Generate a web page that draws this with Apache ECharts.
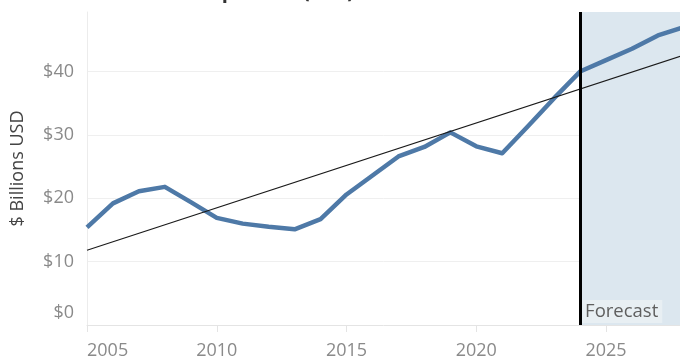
<!DOCTYPE html>
<html>
<head>
<meta charset="utf-8">
<style>
  html, body { margin: 0; padding: 0; background: #ffffff; }
  #chart { width: 680px; height: 360px; }
</style>
<script src="https://cdn.jsdelivr.net/npm/echarts@6/dist/echarts.min.js"></script>
</head>
<body>
<div id="chart"></div>
<script>
// Yearly values, $ billions (2024 onward is the forecast period)
const years = [2005, 2006, 2007, 2008, 2009, 2010, 2011, 2012, 2013, 2014, 2015, 2016,
               2017, 2018, 2019, 2020, 2021, 2022, 2023, 2024, 2025, 2026, 2027, 2028];
const values = [15.4, 19.2, 21.1, 21.8, 19.4, 16.9, 16.0, 15.5, 15.1, 16.7, 20.6, 23.6,
                26.6, 28.1, 30.4, 28.2, 27.1, 31.4, 35.8, 40.0, 41.8, 43.6, 45.7, 47.0];
// Linear trend line end points
const trendYears = [2005, 2028];
const trendValues = [11.8, 42.6];
const forecastStart = 2024;
const xRange = [2005, 2027.85];
const yRange = [0, 49.4];
const titleText = 'Annual Shipments (US$)';
const yTitle = '$ Billions USD';
const forecastLabel = 'Forecast';

const FONT = '"Open Sans", "Noto Sans", sans-serif';
const chart = echarts.init(document.getElementById('chart'), null, { renderer: 'canvas' });

chart.setOption({
  animation: false,
  backgroundColor: '#ffffff',
  grid: { left: 87, right: 0, top: 12, bottom: 34.5, containLabel: false },
  graphic: [{
    type: 'text',
    right: 326,
    top: -18,
    style: {
      text: titleText,
      fontFamily: FONT,
      fontSize: 20,
      fontWeight: 'bold',
      fill: '#333333'
    }
  }],
  xAxis: {
    type: 'value',
    min: xRange[0],
    max: xRange[1],
    interval: 5,
    axisLine: { show: true, lineStyle: { color: '#e4e4e4', width: 1 } },
    axisTick: { show: true, length: 7, lineStyle: { color: '#e4e4e4' } },
    splitLine: { show: false },
    axisLabel: {
      show: true,
      color: '#8a8a8a',
      fontFamily: FONT,
      fontSize: 18,
      margin: 17,
      showMaxLabel: false,
      alignMinLabel: 'left',
      formatter: v => String(v)
    }
  },
  yAxis: {
    type: 'value',
    min: yRange[0],
    max: yRange[1],
    interval: 10,
    name: yTitle,
    nameLocation: 'middle',
    nameGap: 60,
    nameTextStyle: { color: '#444444', fontFamily: FONT, fontSize: 18 },
    axisLine: { show: true, lineStyle: { color: '#ececec', width: 1 } },
    axisTick: { show: false },
    splitLine: { show: true, showMinLine: false, showMaxLine: false,
                 lineStyle: { color: '#efefef', width: 1 } },
    axisLabel: {
      color: '#8a8a8a',
      fontFamily: FONT,
      fontSize: 18,
      margin: 13,
      showMaxLabel: false,
      // the zero label sits raised above the baseline
      formatter: v => (v === 0 ? '{low|$0}' : '$' + v),
      rich: {
        low: { color: '#8a8a8a', fontFamily: FONT, fontSize: 18, padding: [0, 0, 24, 0] }
      }
    }
  },
  series: [
    {
      name: 'Value',
      type: 'line',
      data: years.map((y, i) => [y, values[i]]),
      showSymbol: false,
      symbol: 'none',
      clip: true,
      z: 3,
      lineStyle: { color: '#4e79a7', width: 4.5, join: 'round' },
      markArea: {
        silent: true,
        itemStyle: { color: '#dce7ef' },
        label: {
          show: true,
          position: 'insideBottomLeft',
          distance: 2,
          color: '#5f5f5f',
          fontFamily: FONT,
          fontSize: 18.5,
          backgroundColor: '#e8eff3',
          padding: [2, 4, 2, 3]
        },
        data: [[{ xAxis: forecastStart, name: forecastLabel }, { xAxis: xRange[1] }]]
      },
      markLine: {
        silent: true,
        symbol: 'none',
        label: { show: false },
        lineStyle: { color: '#000000', width: 3, type: 'solid' },
        data: [{ xAxis: forecastStart }]
      }
    },
    {
      name: 'Trend',
      type: 'line',
      data: trendYears.map((y, i) => [y, trendValues[i]]),
      showSymbol: false,
      symbol: 'none',
      clip: true,
      z: 4,
      lineStyle: { color: '#1a1a1a', width: 1.2 }
    }
  ]
});
</script>
</body>
</html>
